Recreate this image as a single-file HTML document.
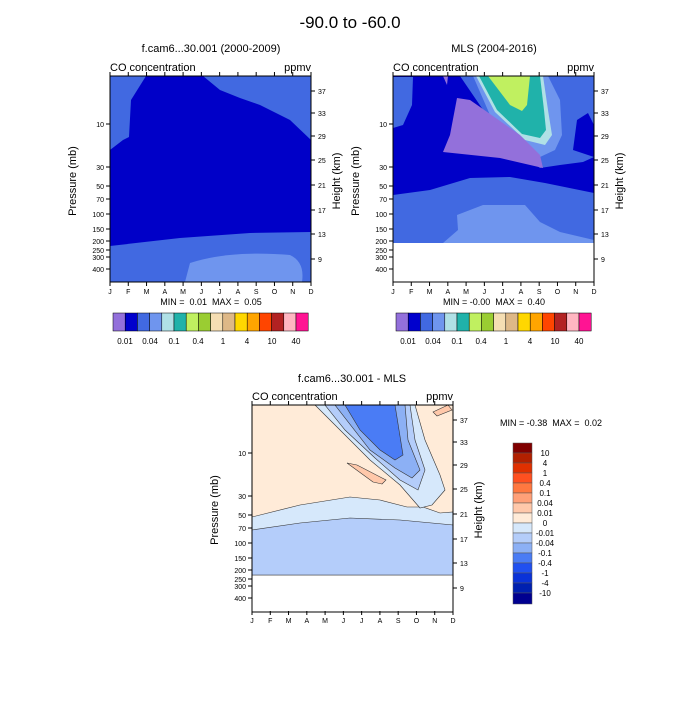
<!DOCTYPE html>
<html><head><meta charset="utf-8"><style>
body{margin:0;background:#fff;}
svg text{font-family:"Liberation Sans",sans-serif;fill:#000;white-space:pre;}
</style></head><body>
<svg width="700" height="700" viewBox="0 0 700 700" xmlns="http://www.w3.org/2000/svg">
<text x="350" y="28" font-size="17" text-anchor="middle">-90.0 to -60.0</text>

<!-- Panel 1 -->
<text x="211" y="52" font-size="11" text-anchor="middle">f.cam6...30.001 (2000-2009)</text>
<text x="110" y="71" font-size="11">CO concentration</text>
<text x="311" y="71" font-size="11" text-anchor="end">ppmv</text>
<rect x="110" y="76" width="201" height="206" fill="#0000c8"/>
<polygon points="110,76 146,76 131,100 129,137 123,140 110,150" fill="#4169e1"/>
<polygon points="203,76 311,76 311,140 290,120 260,105 240,98 220,90" fill="#4169e1"/>
<polygon points="110,246 180,238 250,233 311,232 311,282 110,282" fill="#4169e1"/>
<path d="M185,282 L190,263 Q230,250 290,255 Q305,262 302,282Z" fill="#6f95ee"/>
<rect x="110" y="76" width="201" height="206" fill="none" stroke="#000"/>

<!-- Panel 2 -->
<text x="494" y="52" font-size="11" text-anchor="middle">MLS (2004-2016)</text>
<text x="393" y="71" font-size="11">CO concentration</text>
<text x="594" y="71" font-size="11" text-anchor="end">ppmv</text>
<rect x="393" y="76" width="201" height="206" fill="#fff"/>
<rect x="393" y="76" width="201" height="167" fill="#0000c8"/>
<polygon points="393,195 430,190 470,178 510,177 545,183 594,193 594,243 393,243" fill="#4169e1"/>
<polygon points="443,243 458,230 457,215 483,205 525,205 540,222 560,232 594,240 594,243" fill="#6f95ee"/>
<polygon points="393,77 413,77 412,105 403,125 393,128" fill="#4169e1"/>
<polygon points="460,76 594,76 594,125 588,113 577,120 573,150 594,157 583,162 560,165 540,168 515,150 490,120" fill="#4169e1"/>
<polygon points="473,76 548,76 560,100 562,135 555,150 540,157 520,148 490,115" fill="#6f95ee"/>
<polygon points="476,76 543,76 548,110 552,135 545,145 525,140 495,112" fill="#b0e0e6"/>
<polygon points="479,76 540,76 544,110 546,130 540,138 522,134 497,110" fill="#20b2aa"/>
<polygon points="488,76 530,76 527,105 522,111 510,105" fill="#c0f060"/>
<polygon points="457,98 470,100 520,135 540,155 543,168 500,158 443,152 450,135" fill="#9370db"/>
<polygon points="443,76 448,76 447,85" fill="#9370db"/>
<rect x="393" y="76" width="201" height="206" fill="none" stroke="#000"/>

<!-- Panel 3 -->
<text x="352" y="382" font-size="11" text-anchor="middle">f.cam6...30.001 - MLS</text>
<text x="252" y="400" font-size="11">CO concentration</text>
<text x="453" y="400" font-size="11" text-anchor="end">ppmv</text>
<rect x="252" y="405" width="201" height="207" fill="#fff"/>
<rect x="252" y="405" width="201" height="170" fill="#ffebd8"/>
<polygon points="252,517 300,505 350,497 380,500 407,507 423,507 440,513 453,512 453,575 252,575" fill="#d6e8fb" stroke="#333" stroke-width="0.6"/>
<polygon points="252,530 300,523 350,518 400,520 453,525 453,575 252,575" fill="#b4cdfa" stroke="#333" stroke-width="0.6"/>
<polygon points="315,405 415,405 425,440 440,475 445,490 432,505 420,508 400,485 370,460 340,430" fill="#d6e8fb" stroke="#333" stroke-width="0.6"/>
<polygon points="325,405 410,405 415,440 425,470 418,490 400,480 375,458 345,430" fill="#b4cdfa" stroke="#333" stroke-width="0.6"/>
<polygon points="335,405 405,405 408,440 420,470 412,478 395,468 370,450" fill="#8cb0f5" stroke="#333" stroke-width="0.6"/>
<polygon points="345,405 395,405 403,455 395,460 380,450 360,430" fill="#4a7cf5" stroke="#333" stroke-width="0.6"/>
<polygon points="347,463 357,465 386,480 382,484 373,482" fill="#ffc8aa" stroke="#333" stroke-width="0.6"/>
<polygon points="433,412 448,405 452,410 437,416" fill="#ffc8aa" stroke="#333" stroke-width="0.6"/>
<rect x="252" y="405" width="201" height="207" fill="none" stroke="#000"/>
<text x="500" y="426" font-size="9">MIN = -0.38  MAX =  0.02</text>

<g id="axes" font-size="8"></g>

<!-- Colorbar 1 & 2 -->
<g stroke="#000" stroke-width="0.5">
<rect x="113" y="313" width="12.2" height="18" fill="#9370db"/><rect x="125.2" y="313" width="12.2" height="18" fill="#0000cd"/><rect x="137.4" y="313" width="12.2" height="18" fill="#4169e1"/><rect x="149.6" y="313" width="12.2" height="18" fill="#6f95ee"/><rect x="161.8" y="313" width="12.2" height="18" fill="#b0e0e6"/><rect x="174" y="313" width="12.2" height="18" fill="#20b2aa"/><rect x="186.2" y="313" width="12.2" height="18" fill="#c0f060"/><rect x="198.4" y="313" width="12.2" height="18" fill="#9acd32"/><rect x="210.6" y="313" width="12.2" height="18" fill="#f5deb3"/><rect x="222.8" y="313" width="12.2" height="18" fill="#deb887"/><rect x="235" y="313" width="12.2" height="18" fill="#ffd700"/><rect x="247.2" y="313" width="12.2" height="18" fill="#ffa500"/><rect x="259.4" y="313" width="12.2" height="18" fill="#ff4500"/><rect x="271.6" y="313" width="12.2" height="18" fill="#b22222"/><rect x="283.8" y="313" width="12.2" height="18" fill="#ffb6c1"/><rect x="296" y="313" width="12.2" height="18" fill="#ff1493"/>
</g>
<g stroke="#000" stroke-width="0.5" transform="translate(283,0)">
<rect x="113" y="313" width="12.2" height="18" fill="#9370db"/><rect x="125.2" y="313" width="12.2" height="18" fill="#0000cd"/><rect x="137.4" y="313" width="12.2" height="18" fill="#4169e1"/><rect x="149.6" y="313" width="12.2" height="18" fill="#6f95ee"/><rect x="161.8" y="313" width="12.2" height="18" fill="#b0e0e6"/><rect x="174" y="313" width="12.2" height="18" fill="#20b2aa"/><rect x="186.2" y="313" width="12.2" height="18" fill="#c0f060"/><rect x="198.4" y="313" width="12.2" height="18" fill="#9acd32"/><rect x="210.6" y="313" width="12.2" height="18" fill="#f5deb3"/><rect x="222.8" y="313" width="12.2" height="18" fill="#deb887"/><rect x="235" y="313" width="12.2" height="18" fill="#ffd700"/><rect x="247.2" y="313" width="12.2" height="18" fill="#ffa500"/><rect x="259.4" y="313" width="12.2" height="18" fill="#ff4500"/><rect x="271.6" y="313" width="12.2" height="18" fill="#b22222"/><rect x="283.8" y="313" width="12.2" height="18" fill="#ffb6c1"/><rect x="296" y="313" width="12.2" height="18" fill="#ff1493"/>
</g>
<g font-size="8" text-anchor="middle">
<text x="125" y="344">0.01</text><text x="150" y="344">0.04</text><text x="174" y="344">0.1</text><text x="198" y="344">0.4</text><text x="223" y="344">1</text><text x="247" y="344">4</text><text x="272" y="344">10</text><text x="296" y="344">40</text>
<text x="408" y="344">0.01</text><text x="433" y="344">0.04</text><text x="457" y="344">0.1</text><text x="481" y="344">0.4</text><text x="506" y="344">1</text><text x="530" y="344">4</text><text x="555" y="344">10</text><text x="579" y="344">40</text>
</g>
<text x="211" y="305" font-size="9" text-anchor="middle">MIN =  0.01  MAX =  0.05</text>
<text x="494" y="305" font-size="9" text-anchor="middle">MIN = -0.00  MAX =  0.40</text>

<!-- Colorbar 3 -->
<g stroke="#555" stroke-width="0.5">
<rect x="513" y="443" width="19" height="10" fill="#800000"/><rect x="513" y="453" width="19" height="10" fill="#b22000"/><rect x="513" y="463" width="19" height="10" fill="#e03000"/><rect x="513" y="473" width="19" height="10" fill="#ff5020"/><rect x="513" y="483" width="19" height="10" fill="#ff7840"/><rect x="513" y="493" width="19" height="10" fill="#ffa078"/><rect x="513" y="503" width="19" height="10" fill="#ffc8aa"/><rect x="513" y="513" width="19" height="10" fill="#ffebd8"/><rect x="513" y="523" width="19" height="10" fill="#d6e8fb"/><rect x="513" y="533" width="19" height="10" fill="#b4cdfa"/><rect x="513" y="543" width="19" height="10" fill="#8cb0f5"/><rect x="513" y="553" width="19" height="10" fill="#4a7cf5"/><rect x="513" y="563" width="19" height="10" fill="#2050f0"/><rect x="513" y="573" width="19" height="10" fill="#0a32d8"/><rect x="513" y="583" width="19" height="10" fill="#0020b0"/><rect x="513" y="593" width="19" height="11" fill="#000090"/>
</g>
<g font-size="8" text-anchor="middle">
<text x="545" y="456">10</text><text x="545" y="466">4</text><text x="545" y="476">1</text><text x="545" y="486">0.4</text><text x="545" y="496">0.1</text><text x="545" y="506">0.04</text><text x="545" y="516">0.01</text><text x="545" y="526">0</text><text x="545" y="536">-0.01</text><text x="545" y="546">-0.04</text><text x="545" y="556">-0.1</text><text x="545" y="566">-0.4</text><text x="545" y="576">-1</text><text x="545" y="586">-4</text><text x="545" y="596">-10</text>
</g>
</svg>
<script>
(function(){
var ns="http://www.w3.org/2000/svg",g=document.getElementById("axes");
function el(t,a,txt){var e=document.createElementNS(ns,t);for(var k in a)e.setAttribute(k,a[k]);if(txt!==undefined)e.textContent=txt;g.appendChild(e);}
var panels=[[110,76],[393,76],[252,405]];
var months="JFMAMJJASOND";
var pl=[["10",48],["30",91],["50",110],["70",123],["100",138],["150",153],["200",165],["250",174],["300",181],["400",193]];
var hl=[["37",15],["33",37],["29",60],["25",84],["21",109],["17",134],["13",158],["9",183]];
panels.forEach(function(p,i){
 var x0=p[0],y0=p[1],w=201,h=206;
 for(var m=0;m<12;m++){var x=x0+m*w/11;
  el("line",{x1:x,y1:y0+h,x2:x,y2:y0+h+4,stroke:"#000"});
  el("line",{x1:x,y1:y0,x2:x,y2:y0-4,stroke:"#000"});
  el("text",{x:x,y:y0+h+12,"text-anchor":"middle","font-size":"7"},months[m]);}
 pl.forEach(function(q){var y=y0+q[1];el("line",{x1:x0,y1:y,x2:x0-4,y2:y,stroke:"#000"});
  el("text",{x:x0-6,y:y+3,"text-anchor":"end","font-size":"7"},q[0]);});
 hl.forEach(function(q){var y=y0+q[1];el("line",{x1:x0+w,y1:y,x2:x0+w+4,y2:y,stroke:"#000"});
  el("text",{x:x0+w+7,y:y+3,"font-size":"7"},q[0]);});
 var cy=y0+105;
 el("text",{x:0,y:0,transform:"translate("+(x0-34)+","+cy+") rotate(-90)","text-anchor":"middle","font-size":"11"},"Pressure (mb)");
 el("text",{x:0,y:0,transform:"translate("+(x0+w+29)+","+cy+") rotate(-90)","text-anchor":"middle","font-size":"11"},"Height (km)");
});
})();
</script>
</body></html>
